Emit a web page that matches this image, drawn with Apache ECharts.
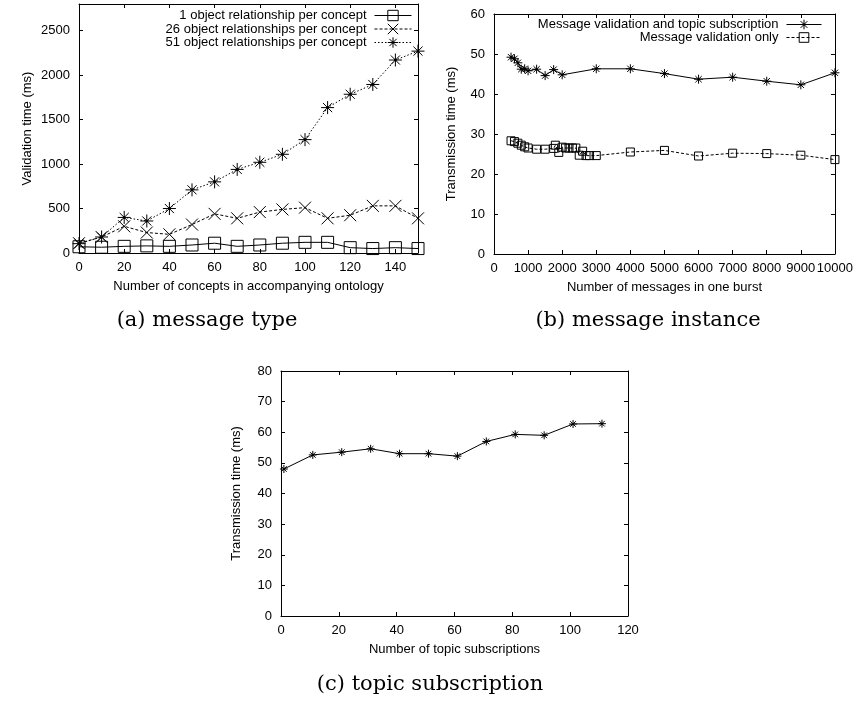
<!DOCTYPE html>
<html>
<head>
<meta charset="utf-8">
<script src="https://cdn.jsdelivr.net/npm/echarts@6/dist/echarts.min.js"></script>
<style>
  html, body { margin: 0; padding: 0; background: #fff; }
  #main { width: 856px; height: 704px; }
</style>
</head>
<body>
<div id="main"></div>
<script>
// (a) message type
var aConcepts = [0, 10, 20, 30, 40, 50, 60, 70, 80, 90, 100, 110, 120, 130, 140, 150];
var aOneRel = [70, 65, 75, 80, 75, 90, 110, 75, 90, 110, 120, 120, 60, 50, 60, 50];
var aTwentySixRel = [110, 180, 300, 230, 210, 320, 440, 390, 460, 490, 510, 390, 425, 530, 530, 390];
var aFiftyOneRel = [105, 180, 400, 360, 500, 710, 800, 940, 1020, 1110, 1275, 1635, 1785, 1895, 2170, 2270];

// (b) message instance
var bStarBurst = [500, 600, 700, 800, 900, 1000, 1250, 1500, 1750, 2000, 3000, 4000, 5000, 6000, 7000, 8000, 9000, 10000];
var bStarTime = [49.2, 48.8, 47.8, 46.2, 46.3, 45.8, 46.2, 44.6, 46.1, 44.8, 46.3, 46.3, 45.1, 43.7, 44.2, 43.2, 42.3, 45.3];
var bSqBurst = [500, 600, 700, 800, 900, 1000, 1250, 1500, 1750, 1800, 1900, 2000, 2100, 2200, 2300, 2400, 2500, 2600, 2700, 2800, 3000, 4000, 5000, 6000, 7000, 8000, 9000, 10000];
var bSqTime = [28.3, 28.1, 27.7, 27.2, 26.8, 26.5, 26.2, 26.2, 26.4, 27.2, 25.4, 26.7, 26.5, 26.5, 26.5, 26.5, 24.7, 25.7, 24.6, 24.6, 24.6, 25.5, 25.9, 24.5, 25.2, 25.1, 24.7, 23.6];

// (c) topic subscription
var cSubs = [1, 11, 21, 31, 41, 51, 61, 71, 81, 91, 101, 111];
var cTime = [48, 52.6, 53.5, 54.6, 53, 53, 52.2, 57, 59.3, 59, 62.7, 62.8];

var FONT = 'Liberation Sans';
var STAR = 'path://M5,0L5,10M0,5L10,5M1.5,1.5L8.5,8.5M8.5,1.5L1.5,8.5M4.2,5A0.8,0.8 0 1,0 5.8,5A0.8,0.8 0 1,0 4.2,5Z';
var CROSS = 'path://M0,0L10,10M10,0L0,10';
var SQUARE = 'path://M0,0L10,0L10,10L0,10Z';

function zip(xs, ys) {
  return xs.map(function (x, i) { return [x, ys[i]]; });
}
function plain(v) { return String(v); }

var chart = echarts.init(document.getElementById('main'));

var tick = { inside: true, length: 4, lineStyle: { color: '#000' } };
var line = { show: true, onZero: false, lineStyle: { color: '#000', width: 1 } };

function mainX(grid, min, max, interval, name) {
  return {
    gridIndex: grid, type: 'value', min: min, max: max, interval: interval,
    position: 'bottom',
    name: name, nameLocation: 'middle', nameGap: 27,
    nameTextStyle: { fontFamily: FONT, fontSize: 13, color: '#000' },
    axisLine: line, axisTick: tick,
    axisLabel: { margin: 8, fontFamily: FONT, fontSize: 13, color: '#000', formatter: plain,
      showMaxLabel: max % interval === 0, hideOverlap: false },
    splitLine: { show: false }
  };
}
function mirrorX(grid, min, max, interval) {
  return {
    gridIndex: grid, type: 'value', min: min, max: max, interval: interval,
    position: 'top',
    axisLine: line, axisTick: tick,
    axisLabel: { show: false },
    splitLine: { show: false }
  };
}
function mainY(grid, min, max, interval, name, gap) {
  return {
    gridIndex: grid, type: 'value', min: min, max: max, interval: interval,
    position: 'left',
    name: name, nameLocation: 'middle', nameGap: gap,
    nameTextStyle: { fontFamily: FONT, fontSize: 13, color: '#000' },
    axisLine: line, axisTick: Object.assign({ show: true }, tick),
    axisLabel: { margin: 9, fontFamily: FONT, fontSize: 13, color: '#000', formatter: plain,
      showMaxLabel: max % interval === 0 },
    splitLine: { show: false }
  };
}
function mirrorY(grid, min, max, interval) {
  return {
    gridIndex: grid, type: 'value', min: min, max: max, interval: interval,
    position: 'right',
    axisLine: line, axisTick: Object.assign({ show: true }, tick),
    axisLabel: { show: false },
    splitLine: { show: false }
  };
}

function lineSeries(name, grid, data, symbol, size, fill, dash) {
  return {
    name: name, type: 'line', xAxisIndex: grid * 2, yAxisIndex: grid * 2,
    data: data, symbol: symbol, symbolSize: size, animation: false,
    lineStyle: { color: '#000', width: 1, type: dash },
    itemStyle: { color: fill, borderColor: '#000', borderWidth: 1 },
    emphasis: { disabled: true }
  };
}

var option = {
  backgroundColor: '#fff',
  animation: false,
  grid: [
    { left: 79, top: 4, width: 339, height: 249 },
    { left: 494, top: 14, width: 343, height: 240 },
    { left: 281, top: 371, width: 347, height: 245 }
  ],
  xAxis: [
    mainX(0, 0, 150, 20, 'Number of concepts in accompanying ontology'),
    mirrorX(0, 0, 150, 20),
    mainX(1, 0, 10000, 1000, 'Number of messages in one burst'),
    mirrorX(1, 0, 10000, 1000),
    mainX(2, 0, 120, 20, 'Number of topic subscriptions'),
    mirrorX(2, 0, 120, 20)
  ],
  yAxis: [
    mainY(0, 0, 2800, 500, 'Validation time (ms)', 45),
    mirrorY(0, 0, 2800, 500),
    mainY(1, 0, 60, 10, 'Transmission time (ms)', 36),
    mirrorY(1, 0, 60, 10),
    mainY(2, 0, 80, 10, 'Transmission time (ms)', 38),
    mirrorY(2, 0, 80, 10)
  ],
  legend: [
    {
      data: ['1 object relationship per concept', '26 object relationships per concept', '51 object relationships per concept'],
      orient: 'vertical', align: 'right', right: 444, top: 9, padding: 0,
      itemWidth: 37, itemHeight: 13, itemGap: 0.5,
      lineStyle: { width: 1 }, itemStyle: { borderWidth: 1 },
      textStyle: { fontFamily: FONT, fontSize: 13, lineHeight: 13, color: '#000', padding: [0, 3, 0, 0] },
      selectedMode: false
    },
    {
      data: ['Message validation and topic subscription', 'Message validation only'],
      orient: 'vertical', align: 'right', right: 34, top: 18, padding: 0,
      itemWidth: 35, itemHeight: 12, itemGap: 0,
      lineStyle: { width: 1 }, itemStyle: { borderWidth: 1 },
      textStyle: { fontFamily: FONT, fontSize: 13, lineHeight: 12, color: '#000', padding: [0, 3, 0, 0] },
      selectedMode: false
    }
  ],
  graphic: [
    { type: 'text', x: 207, y: 321, style: { text: '(a) message type', font: '21px "DejaVu Serif"', fill: '#000', align: 'center', verticalAlign: 'middle' } },
    { type: 'text', x: 648, y: 321, style: { text: '(b) message instance', font: '21px "DejaVu Serif"', fill: '#000', align: 'center', verticalAlign: 'middle' } },
    { type: 'text', x: 430, y: 685, style: { text: '(c) topic subscription', font: '21px "DejaVu Serif"', fill: '#000', align: 'center', verticalAlign: 'middle' } }
  ],
  series: [
    lineSeries('1 object relationship per concept', 0, zip(aConcepts, aOneRel), SQUARE, 12, 'transparent', 'solid'),
    lineSeries('26 object relationships per concept', 0, zip(aConcepts, aTwentySixRel), CROSS, 12, 'transparent', [3, 2]),
    lineSeries('51 object relationships per concept', 0, zip(aConcepts, aFiftyOneRel), STAR, 13, '#000', [1.5, 2]),
    lineSeries('Message validation and topic subscription', 1, zip(bStarBurst, bStarTime), STAR, 9, '#000', 'solid'),
    lineSeries('Message validation only', 1, zip(bSqBurst, bSqTime), SQUARE, 8, 'transparent', [3, 2]),
    lineSeries('Topic subscription', 2, zip(cSubs, cTime), STAR, 8, '#000', 'solid')
  ]
};

chart.setOption(option);
</script>
</body>
</html>
